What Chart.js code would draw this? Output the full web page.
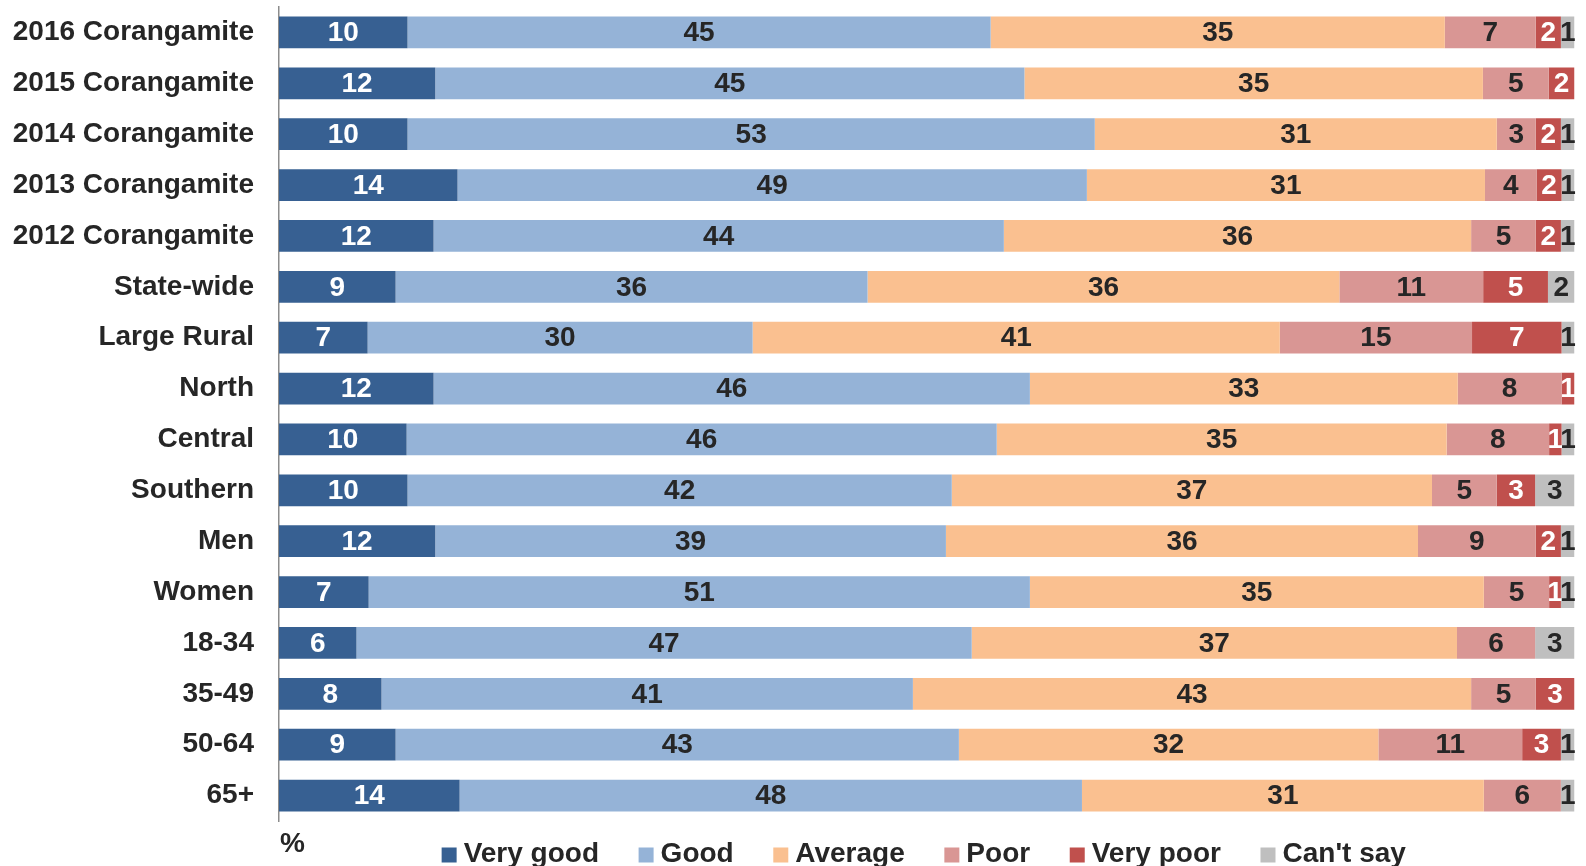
<!DOCTYPE html>
<html>
<head>
<meta charset="utf-8">
<script src="https://cdn.jsdelivr.net/npm/chart.js@4/dist/chart.umd.min.js"></script>
<style>
  html, body { margin: 0; padding: 0; background: #ffffff; }
  #wrap { width: 1586px; height: 866px; position: relative; }
</style>
</head>
<body>
<div id="wrap"><canvas id="c" width="1586" height="866"></canvas></div>
<script>
// ---- data (percent) ----
const categories = ['2016 Corangamite', '2015 Corangamite', '2014 Corangamite', '2013 Corangamite', '2012 Corangamite',
  'State-wide', 'Large Rural', 'North', 'Central', 'Southern', 'Men', 'Women', '18-34', '35-49', '50-64', '65+'];
const seriesNames = ['Very good', 'Good', 'Average', 'Poor', 'Very poor', "Can't say"];

const veryGood = [9.92, 12.06, 9.92, 13.78, 11.93, 9.0, 6.84, 11.93, 9.85, 9.92, 12.06, 6.92, 5.98, 7.91, 9.0, 13.94];
const good     = [45.01, 45.48, 53.05, 48.58, 44.02, 36.43, 29.72, 46.03, 45.55, 42.01, 39.42, 51.04, 47.49, 41.02, 43.48, 48.04];
const average  = [35.06, 35.39, 31.03, 30.73, 36.07, 36.42, 40.69, 33.03, 34.73, 37.07, 36.44, 35.04, 37.46, 43.09, 32.38, 31.02];
const poor     = [7.02, 5.08, 3.01, 3.98, 4.99, 11.1, 14.84, 8.01, 7.91, 5.0, 9.09, 5.04, 6.03, 4.99, 11.1, 5.95];
const veryPoor = [1.94, 1.99, 1.94, 1.93, 1.94, 5.0, 6.91, 1.0, 0.96, 2.96, 1.94, 0.91, 0, 2.99, 2.99, 0];
const cantSay  = [1.05, 0, 1.05, 1.0, 1.05, 2.05, 1.0, 0, 1.0, 3.04, 1.05, 1.05, 3.04, 0, 1.05, 1.05];

// ---- styles ----
const seriesColors = ['#376092', '#95B3D7', '#FAC090', '#D99694', '#C0504D', '#BFBFBF'];
const labelColors  = ['#FFFFFF', '#262626', '#262626', '#262626', '#FFFFFF', '#262626'];
const FONT = '"Liberation Sans", Arial, Helvetica, sans-serif';
const TEXT = '#262626';

// 100% stacked: each row is scaled to a total of 100
const seriesValues = [veryGood, good, average, poor, veryPoor, cantSay];
const rowTotals = categories.map((_, i) => seriesValues.reduce((s, arr) => s + arr[i], 0));

const datasets = seriesValues.map((arr, k) => ({
  label: seriesNames[k],
  data: arr.map((v, i) => v / rowTotals[i] * 100),
  rawValues: arr,
  labelColor: labelColors[k],
  backgroundColor: seriesColors[k],
  borderWidth: 0,
  categoryPercentage: 0.625,
  barPercentage: 1.0
}));

const valueLabels = {
  id: 'valueLabels',
  afterDatasetsDraw(chart) {
    const ctx = chart.ctx;
    ctx.save();
    ctx.font = 'bold 28px ' + FONT;
    ctx.textAlign = 'center';
    ctx.textBaseline = 'middle';
    chart.data.datasets.forEach((ds, di) => {
      const meta = chart.getDatasetMeta(di);
      meta.data.forEach((el, i) => {
        const v = ds.rawValues[i];
        if (!v) return;
        const cx = (el.x + el.base) / 2;
        ctx.fillStyle = ds.labelColor;
        ctx.fillText(String(Math.round(v)), cx, el.y + 1);
      });
    });
    ctx.restore();
  }
};

const extras = {
  id: 'extras',
  afterDraw(chart) {
    const ctx = chart.ctx;
    const ca = chart.chartArea;
    ctx.save();
    ctx.font = 'bold 28px ' + FONT;
    ctx.textAlign = 'left';
    ctx.textBaseline = 'alphabetic';
    ctx.fillStyle = TEXT;
    ctx.fillText('%', ca.left + 1, 852);

    // legend
    const box = 15, gap = 7, spacing = 39.6, baseline = 861.5;
    const items = chart.data.datasets.map(ds => ({
      text: ds.label, color: ds.backgroundColor, w: ctx.measureText(ds.label).width
    }));
    const total = items.reduce((s, it) => s + box + gap + it.w, 0) + spacing * (items.length - 1);
    let x = (ca.left + ca.right) / 2 - 3 - total / 2;
    items.forEach(it => {
      ctx.fillStyle = it.color;
      ctx.fillRect(x, baseline - 14, box, box);
      ctx.fillStyle = TEXT;
      ctx.fillText(it.text, x + box + gap, baseline);
      x += box + gap + it.w + spacing;
    });
    ctx.restore();
  }
};

new Chart(document.getElementById('c'), {
  type: 'bar',
  data: { labels: categories, datasets: datasets },
  options: {
    indexAxis: 'y',
    responsive: false,
    animation: false,
    devicePixelRatio: 1,
    layout: { padding: { left: 0, right: 11.5, top: 7, bottom: 45 } },
    plugins: {
      legend: { display: false },
      tooltip: { enabled: false },
      title: { display: false }
    },
    scales: {
      x: { stacked: true, min: 0, max: 100, display: false },
      y: {
        stacked: true,
        grid: { display: false, drawTicks: false },
        border: { display: true, color: '#8C8C8C', width: 1.5 },
        ticks: {
          color: TEXT,
          padding: 25,
          font: { family: FONT, size: 28, weight: 'bold' }
        },
        afterFit: (axis) => {
          axis.width = 279;
          axis.paddingTop = 0;
          axis.paddingBottom = 0;
        }
      }
    }
  },
  plugins: [valueLabels, extras]
});
</script>
</body>
</html>
